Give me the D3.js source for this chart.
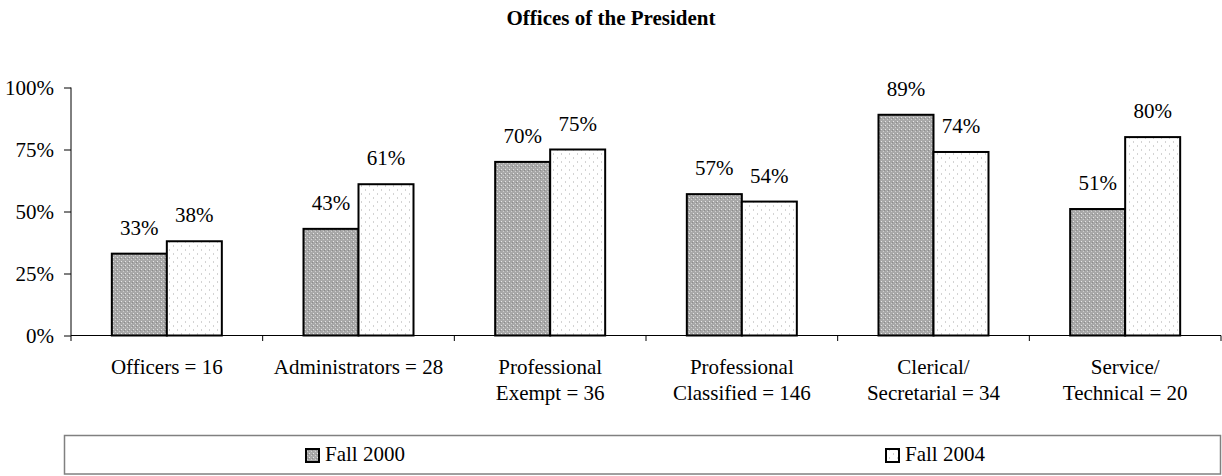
<!DOCTYPE html>
<html><head><meta charset="utf-8">
<script src="https://cdn.jsdelivr.net/npm/d3@7"></script>
<style>body{margin:0;background:#fff}svg{display:block}svg text{font-family:"Liberation Serif","Times New Roman",serif !important}</style>
</head><body>
<svg id="c" width="1222" height="476"></svg>
<script>
const categories = [["Officers = 16"],["Administrators = 28"],["Professional","Exempt = 36"],["Professional","Classified = 146"],["Clerical/","Secretarial = 34"],["Service/","Technical = 20"]];
const seriesNames = ["Fall 2000","Fall 2004"];
const fall2000 = [33,43,70,57,89,51];
const fall2004 = [38,61,75,54,74,80];
const yTicks = [0,25,50,75,100];

const FS = 21;
const svg = d3.select("#c");
const defs = svg.append("defs");
const p1 = defs.append("pattern").attr("id","p1").attr("patternUnits","userSpaceOnUse").attr("width",4).attr("height",4);
p1.append("rect").attr("width",4).attr("height",4).attr("fill","#a8a8a8");
p1.append("rect").attr("x",1).attr("y",1).attr("width",1).attr("height",1).attr("fill","#e6e6e6");
p1.append("rect").attr("x",3).attr("y",3).attr("width",1).attr("height",1).attr("fill","#d0d0d0");
p1.append("rect").attr("x",0).attr("y",2).attr("width",1).attr("height",1).attr("fill","#8c8c8c");
const p2 = defs.append("pattern").attr("id","p2").attr("patternUnits","userSpaceOnUse").attr("width",8).attr("height",8);
p2.append("rect").attr("width",8).attr("height",8).attr("fill","#fff");
p2.append("path").attr("d","M2,1 L1,2 L2,3").attr("stroke","#c8c8c8").attr("fill","none").attr("stroke-width",0.8);
p2.append("path").attr("d","M5,5 L6,6 L5,7").attr("stroke","#c8c8c8").attr("fill","none").attr("stroke-width",0.8);

const x0 = d3.scaleBand().domain(d3.range(categories.length)).range([71,1221]).paddingInner(0).paddingOuter(0);
const y = d3.scaleLinear().domain([0,100]).range([335.5,87.5]);
const barW = 55;

svg.append("text").attr("x",611).attr("y",25).attr("text-anchor","middle").attr("font-weight","bold").attr("font-size",FS).text("Offices of the President");

const ya = svg.append("g").attr("transform","translate(71,0)").call(d3.axisLeft(y).tickValues(yTicks).tickFormat(d=>d+"%").tickSize(7).tickPadding(10));
ya.select(".domain").attr("stroke","#000").attr("d","M0,87.5V335.5");
ya.selectAll("text").attr("font-size",FS).attr("dy","0.32em");
ya.selectAll(".tick line").attr("stroke","#000");

const series = [fall2000, fall2004];
series.forEach((vals,si)=>{
  const g = svg.append("g");
  g.selectAll("rect").data(vals).join("rect")
    .attr("x",(d,i)=>x0(i)+x0.bandwidth()/2 - barW + si*barW)
    .attr("y",d=>y(d)).attr("width",barW).attr("height",d=>y(0)-y(d))
    .attr("fill",si===0?"url(#p1)":"url(#p2)").attr("stroke","#000").attr("stroke-width",2);
  g.selectAll("text").data(vals).join("text")
    .attr("x",(d,i)=>x0(i)+x0.bandwidth()/2 - barW/2 + si*barW)
    .attr("y",d=>y(d)-19).attr("text-anchor","middle").attr("font-size",FS).text(d=>d+"%");
});

const xa = svg.append("g");
xa.append("line").attr("x1",71).attr("x2",1221).attr("y1",335.5).attr("y2",335.5).attr("stroke","#000");
xa.selectAll("line.t").data(d3.range(categories.length+1)).join("line").attr("class","t")
  .attr("x1",i=>i<categories.length?x0(i):x0.range()[1]).attr("x2",i=>i<categories.length?x0(i):x0.range()[1])
  .attr("y1",335.5).attr("y2",341).attr("stroke","#000");
categories.forEach((lines,i)=>{
  const t = xa.append("text").attr("text-anchor","middle").attr("font-size",FS);
  lines.forEach((l,k)=>t.append("tspan").attr("x",x0(i)+x0.bandwidth()/2).attr("y",374+k*26).text(l));
});

svg.append("rect").attr("x",64.5).attr("y",435.5).attr("width",1156).attr("height",38.5).attr("fill","none").attr("stroke","#808080").attr("stroke-width",1.5);
const legX = [305,885];
seriesNames.forEach((n,i)=>{
  svg.append("rect").attr("x",legX[i]+1).attr("y",449).attr("width",13).attr("height",13).attr("fill",i===0?"url(#p1)":"url(#p2)").attr("stroke","#000").attr("stroke-width",2);
  svg.append("text").attr("x",legX[i]+20).attr("y",461).attr("font-size",FS).text(n);
});
</script>
</body></html>
